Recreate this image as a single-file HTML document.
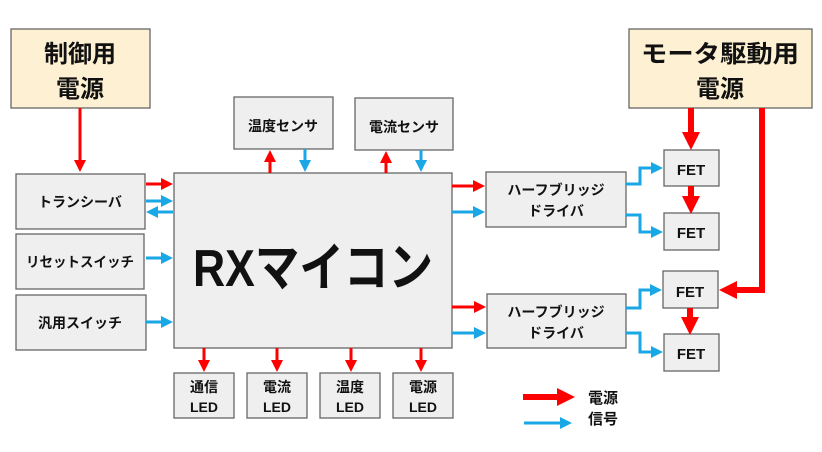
<!DOCTYPE html>
<html><head><meta charset="utf-8"><style>
html,body{margin:0;padding:0;background:#fff;}
svg{display:block;}
text{font-family:"Liberation Sans","Noto Sans CJK JP",sans-serif;font-weight:bold;fill:#111;text-anchor:middle;}
.b{fill:#efefef;stroke:#666;stroke-width:1.3;}
.p{fill:#fdf0d3;stroke:#666;stroke-width:1.3;}
.r{stroke:#f00;stroke-width:3;fill:none;}
.u{stroke:#1aa7e6;stroke-width:3;fill:none;}
.rt{stroke:#f00;stroke-width:6;fill:none;}
</style></head><body>
<svg width="822" height="452" viewBox="0 0 822 452" xmlns="http://www.w3.org/2000/svg">
<defs>
<marker id="ar" markerWidth="4" markerHeight="4" refX="2" refY="2" orient="auto" markerUnits="strokeWidth"><path d="M0,0L4,2L0,4z" fill="#f00"/></marker>
<marker id="ab" markerWidth="4" markerHeight="4" refX="2" refY="2" orient="auto" markerUnits="strokeWidth"><path d="M0,0L4,2L0,4z" fill="#1aa7e6"/></marker>
<marker id="art" markerWidth="3" markerHeight="3" refX="1.5" refY="1.5" orient="auto" markerUnits="strokeWidth"><path d="M0,0L3,1.5L0,3z" fill="#f00"/></marker>
</defs>
<rect class="p" x="11" y="29" width="139" height="79"/>
<text x="80" y="62" font-size="24">制御用</text>
<text x="80" y="97" font-size="24">電源</text>
<rect class="p" x="629" y="29" width="183" height="79"/>
<text x="720" y="62" font-size="24" textLength="158" lengthAdjust="spacingAndGlyphs">モータ駆動用</text>
<text x="720" y="97" font-size="24">電源</text>

<rect class="b" x="16" y="174" width="129" height="55"/><text x="80" y="207" font-size="14">トランシーバ</text>
<rect class="b" x="16" y="234" width="128" height="55"/><text x="80" y="267" font-size="14" textLength="108" lengthAdjust="spacingAndGlyphs">リセットスイッチ</text>
<rect class="b" x="16" y="295" width="130" height="55"/><text x="80" y="328" font-size="14">汎用スイッチ</text>

<rect class="b" x="174" y="173" width="278" height="175"/>
<text x="313" y="286" font-size="52" textLength="240" lengthAdjust="spacingAndGlyphs">RXマイコン</text>

<rect class="b" x="234" y="97" width="99" height="52"/><text x="283" y="131" font-size="14">温度センサ</text>
<rect class="b" x="355" y="98" width="98" height="52"/><text x="404" y="132" font-size="14">電流センサ</text>

<rect class="b" x="486" y="172" width="140" height="55"/><text x="556" y="195" font-size="14">ハーフブリッジ</text><text x="556" y="216" font-size="14">ドライバ</text>
<rect class="b" x="487" y="294" width="139" height="54"/><text x="556" y="317" font-size="14">ハーフブリッジ</text><text x="556" y="338" font-size="14">ドライバ</text>

<rect class="b" x="664" y="150" width="55" height="36"/><text x="691" y="175" font-size="15">FET</text>
<rect class="b" x="664" y="213" width="55" height="37"/><text x="691" y="238" font-size="15">FET</text>
<rect class="b" x="663" y="271" width="55" height="37"/><text x="690" y="297" font-size="15">FET</text>
<rect class="b" x="664" y="334" width="55" height="37"/><text x="691" y="359" font-size="15">FET</text>

<rect class="b" x="174" y="373" width="60" height="45"/><text x="204" y="392" font-size="14">通信</text><text x="204" y="412" font-size="14">LED</text>
<rect class="b" x="247" y="373" width="60" height="45"/><text x="277" y="392" font-size="14">電流</text><text x="277" y="412" font-size="14">LED</text>
<rect class="b" x="320" y="373" width="60" height="45"/><text x="350" y="392" font-size="14">温度</text><text x="350" y="412" font-size="14">LED</text>
<rect class="b" x="393" y="373" width="60" height="45"/><text x="423" y="392" font-size="14">電源</text><text x="423" y="412" font-size="14">LED</text>

<line class="r" x1="80" y1="108" x2="80" y2="166" marker-end="url(#ar)"/>
<line class="r" x1="146" y1="184" x2="167" y2="184" marker-end="url(#ar)"/>
<line class="u" x1="146" y1="201" x2="167" y2="201" marker-end="url(#ab)"/>
<line class="u" x1="173" y1="212" x2="152" y2="212" marker-end="url(#ab)"/>
<line class="u" x1="146" y1="258" x2="167" y2="258" marker-end="url(#ab)"/>
<line class="u" x1="146" y1="322" x2="167" y2="322" marker-end="url(#ab)"/>

<line class="r" x1="270" y1="173" x2="270" y2="156" marker-end="url(#ar)"/>
<line class="u" x1="305" y1="149" x2="305" y2="166" marker-end="url(#ab)"/>
<line class="r" x1="386" y1="173" x2="386" y2="157" marker-end="url(#ar)"/>
<line class="u" x1="421" y1="150" x2="421" y2="166" marker-end="url(#ab)"/>

<line class="r" x1="452" y1="186" x2="479" y2="186" marker-end="url(#ar)"/>
<line class="u" x1="452" y1="212" x2="479" y2="212" marker-end="url(#ab)"/>
<line class="r" x1="452" y1="307" x2="480" y2="307" marker-end="url(#ar)"/>
<line class="u" x1="452" y1="333" x2="480" y2="333" marker-end="url(#ab)"/>

<polyline class="u" points="626,184 640,184 640,168 657,168" marker-end="url(#ab)"/>
<polyline class="u" points="626,215 640,215 640,232 657,232" marker-end="url(#ab)"/>
<polyline class="u" points="626,308 640,308 640,290 656,290" marker-end="url(#ab)"/>
<polyline class="u" points="626,333 640,333 640,352 657,352" marker-end="url(#ab)"/>

<line class="rt" x1="691" y1="108" x2="691" y2="141" marker-end="url(#art)"/>
<line class="rt" x1="691" y1="186" x2="691" y2="205" marker-end="url(#art)"/>
<line class="rt" x1="690" y1="308" x2="690" y2="326" marker-end="url(#art)"/>
<polyline class="rt" points="762,108 762,290 728,290" marker-end="url(#art)"/>

<line class="r" x1="204" y1="348" x2="204" y2="366" marker-end="url(#ar)"/>
<line class="r" x1="277" y1="348" x2="277" y2="366" marker-end="url(#ar)"/>
<line class="r" x1="351" y1="348" x2="351" y2="366" marker-end="url(#ar)"/>
<line class="r" x1="421" y1="348" x2="421" y2="366" marker-end="url(#ar)"/>

<line class="rt" x1="523" y1="397" x2="566" y2="397" marker-end="url(#art)"/>
<text x="603" y="403" font-size="15">電源</text>
<line class="u" x1="524" y1="423" x2="566" y2="423" stroke-width="5" marker-end="url(#ab)"/>
<text x="603" y="424" font-size="15">信号</text>
</svg>
</body></html>
